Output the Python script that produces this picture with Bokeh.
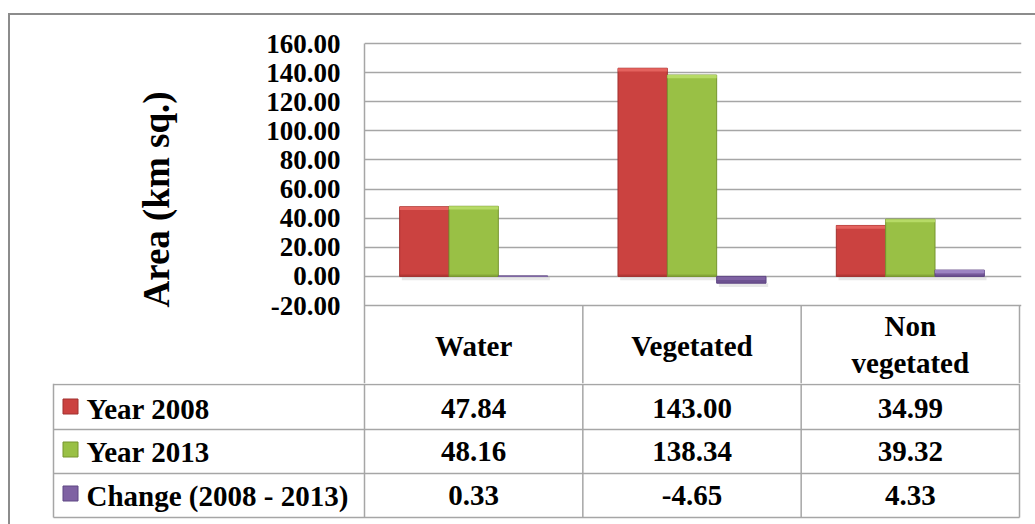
from bokeh.plotting import figure
from bokeh.layouts import column, row
from bokeh.models import ColumnDataSource, FixedTicker, NumeralTickFormatter, Range1d
from bokeh.transform import dodge
from bokeh.core.properties import value
from bokeh.embed import file_html
from bokeh.resources import INLINE

# ---------------- data ----------------
categories = ["Water", "Vegetated", "Non vegetated"]
year_2008 = [47.84, 143.00, 34.99]
year_2013 = [48.16, 138.34, 39.32]
change = [0.33, -4.65, 4.33]
series_names = ["Year 2008", "Year 2013", "Change (2008 - 2013)"]
y_ticks = [-20, 0, 20, 40, 60, 80, 100, 120, 140, 160]

# ---------------- styles / layout constants ----------------
FONT = value("Liberation Serif")
GRID = "#A6A6A6"
fills = ["#CB4240", "#99C045", "#7F62A3"]
lights = ["#E4625E", "#B6DA66", "#9C84C2"]
darks = ["#A1302E", "#76952F", "#5F4683"]
BW = 0.226          # bar width in category units
offsets = [-BW, 0.0, BW]
BEV = 2.2           # bevel depth in value units
SH = 2.6            # shadow depth in value units

S = 262 / 180.0     # px per value unit in the chart
CW = 655 / 3.0      # px per category

def yv(px):
    # page pixel row -> value units of the chart panel (160 sits at px 43)
    return 160 - (px - 43) / S

def xd(px):
    # page pixel column -> category units (category 0 starts at px 364)
    return (px - 364) / CW

series = [year_2008, year_2013, change]
centers = [i + 0.5 for i in range(len(categories))]

src = ColumnDataSource(dict(x=centers))
for k, vals in enumerate(series):
    src.data[f"v{k}"] = vals
    src.data[f"b{k}"] = [max(0.0, v - BEV) if v > 0 else 0.0 for v in vals]
    src.data[f"t{k}"] = [v if v > 0 else 0.0 for v in vals]
    src.data[f"db{k}"] = [0.0 if v > 0 else v for v in vals]
    src.data[f"dt{k}"] = [min(v, BEV * 0.6) if v > 0 else min(0.0, v + BEV) for v in vals]
    src.data[f"st{k}"] = [min(v, 0.0) for v in vals]
    src.data[f"sb{k}"] = [min(v, 0.0) - SH for v in vals]

# ---------------- chart (+ header row of the data table) ----------------
y_top, y_bot = yv(15), yv(383)
x_end = xd(1021)
p = figure(width=1025, height=368, x_range=Range1d(0, x_end), y_range=Range1d(y_bot, y_top),
           output_backend="svg", toolbar_location=None,
           min_border_left=354, min_border_right=1025 - 354 - 657, min_border_top=0,
           min_border_bottom=0)
p.outline_line_color = None
p.background_fill_color = "white"
p.border_fill_color = "white"
p.xaxis.visible = False
p.xgrid.visible = False
p.ygrid.ticker = FixedTicker(ticks=y_ticks)
p.ygrid.grid_line_color = GRID
p.ygrid.grid_line_width = 1.5

ya = p.yaxis[0]
ya.ticker = FixedTicker(ticks=y_ticks)
ya.formatter = NumeralTickFormatter(format="0.00")
ya.bounds = (y_bot, 160)
ya.major_tick_line_color = None
ya.minor_tick_line_color = None
ya.axis_line_color = GRID
ya.axis_line_width = 1.5
ya.major_label_text_font = "Liberation Serif"
ya.major_label_text_font_style = "bold"
ya.major_label_text_font_size = "27px"
ya.major_label_text_color = "black"
ya.major_label_standoff = 18
ya.axis_label = "Area (km sq.)"
ya.axis_label_text_font = "Liberation Serif"
ya.axis_label_text_font_style = "bold"
ya.axis_label_text_font_size = "37px"
ya.axis_label_text_color = "black"
ya.axis_label_standoff = 86

for k in range(3):
    xs = dodge("x", offsets[k], range=p.x_range)
    p.vbar(x=dodge("x", offsets[k] + 0.01, range=p.x_range), bottom=f"sb{k}", top=f"st{k}",
           width=BW, source=src, fill_color="#BDBDBD", fill_alpha=0.35, line_color=None)
for k in range(3):
    xs = dodge("x", offsets[k], range=p.x_range)
    p.vbar(x=xs, bottom=0, top=f"v{k}", width=BW, source=src,
           fill_color=fills[k], line_color=darks[k], line_width=1)
    p.vbar(x=xs, bottom=f"db{k}", top=f"dt{k}", width=BW, source=src,
           fill_color=darks[k], line_color=None, fill_alpha=0.55)
    p.vbar(x=xs, bottom=f"b{k}", top=f"t{k}", width=BW, source=src,
           fill_color=lights[k], line_color=None)

# header row rules
p.segment(x0=[1, 2, 3], y0=[-20] * 3, x1=[1, 2, 3], y1=[y_bot] * 3,
          line_color=GRID, line_width=1.5)

header_text = [c.replace(" ", "\n") for c in categories]
p.text(x=centers, y=[yv(345), yv(345), yv(344)], text=header_text, text_font=FONT,
       text_font_style="bold", text_font_size="29px", text_align="center",
       text_baseline="middle", text_line_height=1.15, text_color="black")

# ---------------- data table body ----------------
H2 = 141
p2 = figure(width=1025, height=H2, x_range=Range1d(xd(10), xd(1035)), y_range=Range1d(H2, 0),
            output_backend="svg", toolbar_location=None, min_border=0)
p2.axis.visible = False
p2.grid.visible = False
p2.outline_line_color = None
p2.background_fill_color = "white"
p2.border_fill_color = "white"

left = xd(53)
row_lines = [1, 46, 90, 134]
p2.segment(x0=[left, 0, 1, 2, 3], y0=[0] * 5, x1=[left, 0, 1, 2, 3], y1=[row_lines[-1]] * 5,
           line_color=GRID, line_width=1.5)
p2.segment(x0=[left] * 4, y0=row_lines, x1=[3] * 4, y1=row_lines,
           line_color=GRID, line_width=1.5)

row_y = [25, 68, 112]
key_y = [23, 66, 110]
p2.rect(x=[xd(70)] * 3, y=key_y, width=15, height=15, width_units="screen",
        height_units="screen", fill_color=fills, line_color=darks, line_width=1)
p2.text(x=[xd(86)] * 3, y=row_y, text=series_names, text_font=FONT, text_font_style="bold",
        text_font_size="29px", text_align="left", text_baseline="middle", text_color="black")

for k, vals in enumerate(series):
    p2.text(x=centers, y=[row_y[k]] * 3, text=[f"{v:.2f}" for v in vals], text_font=FONT,
            text_font_style="bold", text_font_size="29px", text_align="center",
            text_baseline="middle", text_color="black")

layout = column(p, row(p2), spacing=0, margin=(13, 0, 0, 8),
                styles={"border-left": "2px solid #8C8C8C", "border-top": "2px solid #8C8C8C"})

open("out.html", "w").write(file_html(layout, INLINE))
